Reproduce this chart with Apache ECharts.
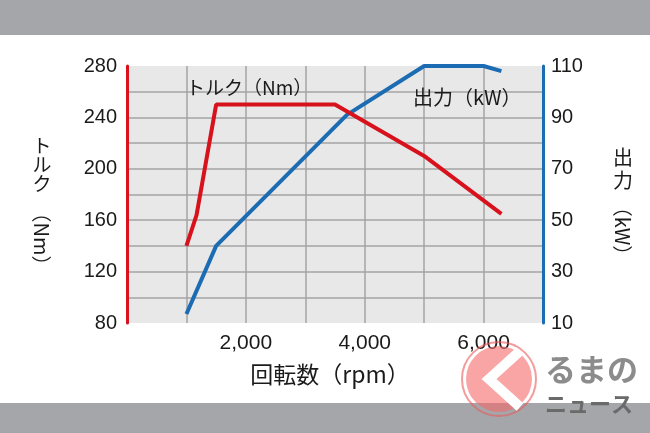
<!DOCTYPE html>
<html>
<head>
<meta charset="utf-8">
<script src="https://cdn.jsdelivr.net/npm/echarts@6/dist/echarts.min.js"></script>
<style>
html,body{margin:0;padding:0;background:#fff;}
#chart{width:650px;height:433px;}
</style>
</head>
<body>
<div id="chart"></div>
<script>
// ---- data ----
const rpmTorque = [1000, 1170, 1500, 3500, 5000, 6300];
const torqueNm  = [140, 164, 250, 250, 210, 165];
const rpmPower  = [1000, 1500, 3700, 5000, 6000, 6300];
const powerKW   = [13.5, 40, 91, 110, 110, 108];
const xTickValues = [2000, 4000, 6000];
const xTickLabels = ['2,000', '4,000', '6,000'];
const leftTickLabels  = [80, 120, 160, 200, 240, 280];
const rightTickLabels = [10, 30, 50, 70, 90, 110];

const RED = '#d8121c';
const BLUE = '#1b6cb3';
const TXT = '#1a1a1a';
const LATIN = '"Liberation Sans", Arial, sans-serif';
const JP = '"Noto Sans CJK JP", sans-serif';

const chart = echarts.init(document.getElementById('chart'), null, {renderer: 'canvas'});

const option = {
  animation: false,
  backgroundColor: '#ffffff',
  grid: {
    left: 127, right: 107, top: 66, bottom: 110,
    show: true, backgroundColor: '#e8e8e8', borderWidth: 0
  },
  xAxis: {
    type: 'value', min: 0, max: 7000, interval: 1000,
    axisLine: {show: false}, axisTick: {show: false},
    axisLabel: {
      margin: 10, color: TXT, fontSize: 21, fontFamily: LATIN,
      formatter: v => { const i = xTickValues.indexOf(v); return i >= 0 ? xTickLabels[i] : ''; }
    },
    splitLine: {show: true, showMinLine: false, showMaxLine: false, lineStyle: {color: '#a5a5a5', width: 1.5}}
  },
  yAxis: [
    {
      type: 'value', min: 80, max: 280, interval: 20, position: 'left',
      axisLine: {show: true, lineStyle: {color: RED, width: 3}},
      axisTick: {show: false},
      axisLabel: {
        margin: 10, color: TXT, fontSize: 20, fontFamily: LATIN,
        formatter: v => leftTickLabels.includes(v) ? String(v) : ''
      },
      splitLine: {show: true, showMinLine: false, showMaxLine: false, lineStyle: {color: '#a5a5a5', width: 1.5}}
    },
    {
      type: 'value', min: 10, max: 110, interval: 10, position: 'right',
      axisLine: {show: true, lineStyle: {color: BLUE, width: 3}},
      axisTick: {show: false},
      axisLabel: {
        margin: 8, color: TXT, fontSize: 20, fontFamily: LATIN,
        formatter: v => rightTickLabels.includes(v) ? String(v) : ''
      },
      splitLine: {show: false}
    }
  ],
  series: [
    {
      type: 'line', yAxisIndex: 1, clip: false, showSymbol: false, z: 3,
      data: rpmPower.map((r, i) => [r, powerKW[i]]),
      lineStyle: {color: BLUE, width: 4}
    },
    {
      type: 'line', yAxisIndex: 0, clip: false, showSymbol: false, z: 4,
      data: rpmTorque.map((r, i) => [r, torqueNm[i]]),
      lineStyle: {color: RED, width: 4}
    }
  ],
  graphic: [
    // gray bands
    {type: 'rect', shape: {x: 0, y: 0, width: 650, height: 35}, style: {fill: '#a4a6aa'}, z: 1},
    {type: 'rect', shape: {x: 0, y: 403, width: 650, height: 30}, style: {fill: '#a4a6aa'}, z: 1},
    // in-plot labels
    {type: 'text', x: 186, y: 88, z: 10, style: {text: 'トルク（Nm）', font: '19px ' + JP, fill: TXT, textVerticalAlign: 'middle', textAlign: 'left'}},
    {type: 'text', x: 413, y: 97, z: 10, style: {text: '出力（kW）', font: '20px ' + JP, fill: TXT, textVerticalAlign: 'middle', textAlign: 'left'}},
    // left axis name (vertical)
    {type: 'text', x: 42, y: 136, z: 10, style: {text: 'ト\nル\nク', font: '19px ' + JP, lineHeight: 19, fill: TXT, textAlign: 'center', textVerticalAlign: 'top'}},
    {type: 'text', x: 42, y: 239, rotation: -Math.PI / 2, z: 10, style: {text: '（Nm）', font: '20px ' + JP, fill: TXT, textAlign: 'center', textVerticalAlign: 'middle'}},
    // right axis name (vertical)
    {type: 'text', x: 623, y: 146, z: 10, style: {text: '出\n力', font: '20px ' + JP, lineHeight: 23, fill: TXT, textAlign: 'center', textVerticalAlign: 'top'}},
    {type: 'text', x: 623, y: 231, rotation: -Math.PI / 2, z: 10, style: {text: '（kW）', font: '20px ' + JP, fill: TXT, textAlign: 'center', textVerticalAlign: 'middle'}},
    // x axis name
    {type: 'text', x: 330, y: 374, z: 10, style: {text: '回転数（rpm）', font: '23px ' + JP, fill: TXT, textAlign: 'center', textVerticalAlign: 'middle'}},
    // watermark
    {type: 'circle', shape: {cx: 499, cy: 379, r: 37}, style: {fill: 'none', stroke: 'rgba(235,90,90,0.6)', lineWidth: 2}, z: 20},
    {type: 'circle', shape: {cx: 499, cy: 379, r: 33}, style: {fill: 'rgba(245,105,105,0.6)'}, z: 20},
    {type: 'polyline', shape: {points: [[520, 351], [489, 379], [520, 407]]}, style: {stroke: '#ffffff', lineWidth: 10, fill: 'none'}, z: 21},
    {type: 'text', x: 545, y: 369, z: 20, style: {text: 'るまの', font: 'bold 31px ' + JP, fill: '#8c8c8c', textAlign: 'left', textVerticalAlign: 'middle'}},
    {type: 'text', x: 545, y: 404, z: 20, style: {text: 'ニュース', font: 'bold 22px ' + JP, fill: '#6a6a6a', textAlign: 'left', textVerticalAlign: 'middle'}}
  ]
};
chart.setOption(option);
</script>
</body>
</html>
